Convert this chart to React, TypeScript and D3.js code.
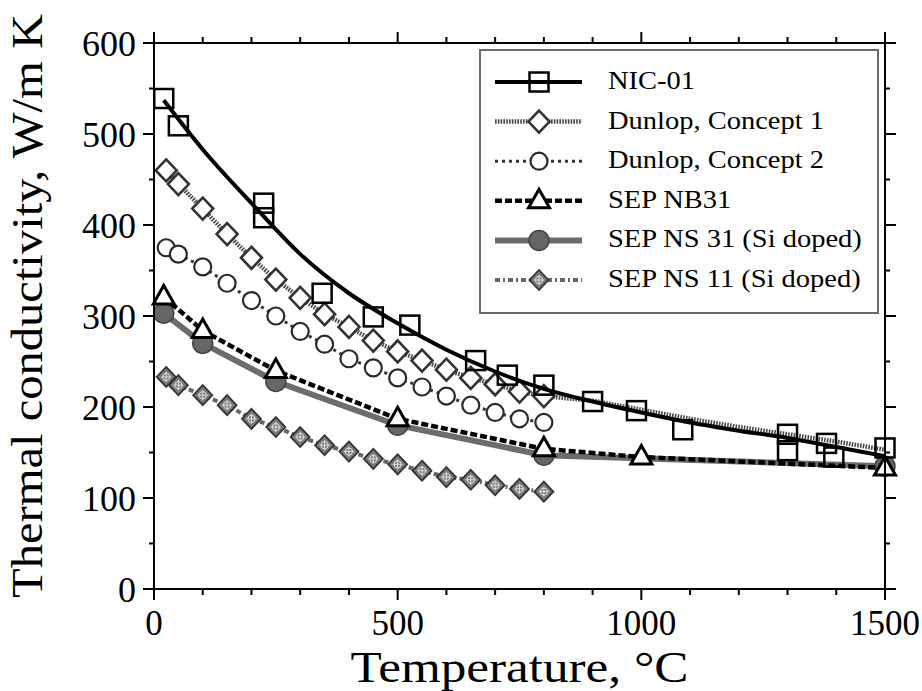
import React from 'react';
import * as d3 from 'd3';

// NIC-01 measured points (open squares)
const nicTemp = [20, 50, 225, 225, 345, 450, 525, 660, 725, 800, 900, 990, 1085, 1300, 1300, 1380, 1395, 1500];
const nicK = [539, 509, 424, 408, 325, 299, 290, 251, 235, 224, 206, 196, 175, 170, 152, 160, 145, 155];
// NIC-01 fitted curve
const nicFitTemp = [20, 100, 200, 300, 400, 500, 600, 700, 800, 900, 1000, 1100, 1200, 1300, 1400, 1500];
const nicFitK = [537, 483, 424, 368, 325, 292, 263, 239, 220, 206, 194, 183, 174, 166, 156, 146];

// Dunlop concepts share the same temperatures
const dunlopTemp = [25, 50, 100, 150, 200, 250, 300, 350, 400, 450, 500, 550, 600, 650, 700, 750, 800];
const dunlop1K = [460, 445, 418, 390, 364, 340, 320, 302, 288, 273, 261, 251, 241, 232, 225, 217, 212];
const dunlop1ExtTemp = [900, 1000, 1100, 1200, 1300, 1400, 1500];
const dunlop1ExtK = [207, 197, 187, 178, 170, 162, 153];
const dunlop2K = [375, 368, 354, 336, 317, 300, 283, 269, 253, 243, 232, 222, 212, 202, 194, 187, 183];

const nb31Temp = [20, 100, 250, 500, 800, 1000, 1500];
const nb31K = [321, 284, 240, 187, 154, 145, 133];

const ns31Temp = [20, 100, 250, 500, 800, 1500];
const ns31K = [303, 270, 228, 180, 147, 135];

const ns11Temp = [25, 50, 100, 150, 200, 250, 300, 350, 400, 450, 500, 550, 600, 650, 700, 750, 800];
const ns11K = [233, 224, 213, 202, 187, 178, 167, 158, 151, 143, 137, 130, 123, 120, 114, 110, 107];

const xTicks = [0, 500, 1000, 1500];
const yTicks = [0, 100, 200, 300, 400, 500, 600];

const legendLabels = ['NIC-01', 'Dunlop, Concept 1', 'Dunlop, Concept 2', 'SEP NB31', 'SEP NS 31 (Si doped)', 'SEP NS 11 (Si doped)'];

const W = 922;
const H = 691;
const font = '"Liberation Serif", "Times New Roman", serif';

const x = d3.scaleLinear().domain([0, 1500]).range([154, 885]);
const y = d3.scaleLinear().domain([0, 600]).range([589, 43]);

const zip = (t: number[], k: number[]) => t.map((d, i) => [d, k[i]] as [number, number]);

const line = d3.line<[number, number]>().x(d => x(d[0])).y(d => y(d[1]));
const smooth = d3.line<[number, number]>().x(d => x(d[0])).y(d => y(d[1])).curve(d3.curveMonotoneX);

// line styles for each series
const styles = {
  nic: { stroke: '#000', strokeWidth: 4, dash: undefined },
  d1: { stroke: '#474747', strokeWidth: 4.5, dash: '1.6,1.2' },
  d2: { stroke: '#333', strokeWidth: 3, dash: '3,4' },
  nb31: { stroke: '#000', strokeWidth: 4.5, dash: '7,3' },
  ns31: { stroke: '#6c6c6c', strokeWidth: 6, dash: undefined },
  ns11: { stroke: '#666', strokeWidth: 4, dash: '5,3,2,3' },
};

const Marker = ({ type, cx, cy }: { type: string; cx: number; cy: number }) => {
  const t = `translate(${cx},${cy})`;
  if (type === 'square')
    return <rect x={cx - 9.5} y={cy - 9.5} width={19} height={19} fill="none" stroke="#000" strokeWidth={2.5} />;
  if (type === 'diamond')
    return <polygon transform={t} points="0,-11 10.5,0 0,11 -10.5,0" fill="#fff" stroke="#333" strokeWidth={2.6} />;
  if (type === 'circle')
    return <circle cx={cx} cy={cy} r={8.5} fill="#fff" stroke="#2a2a2a" strokeWidth={2.2} />;
  if (type === 'triangle')
    return <polygon transform={t} points="0,-11.5 10.5,7 -10.5,7" fill="#fff" stroke="#000" strokeWidth={3} />;
  if (type === 'dot')
    return <circle cx={cx} cy={cy} r={10} fill="#666" stroke="#444" strokeWidth={1.5} />;
  // hatched diamond with a light cross inside
  return (
    <g transform={t}>
      <polygon points="0,-10 9.5,0 0,10 -9.5,0" fill="#7a7a7a" stroke="#333" strokeWidth={1.8} />
      <circle r={3.6} fill="none" stroke="#e0e0e0" strokeWidth={1} />
      <path d="M-5,0H5M0,-5V5" stroke="#e0e0e0" strokeWidth={1} />
    </g>
  );
};

const Path = ({ d, s }: { d: string | null; s: any }) => (
  <path d={d || ''} fill="none" stroke={s.stroke} strokeWidth={s.strokeWidth} strokeDasharray={s.dash} />
);

const legendItems = [
  { s: styles.nic, m: 'square' },
  { s: styles.d1, m: 'diamond' },
  { s: styles.d2, m: 'circle' },
  { s: styles.nb31, m: 'triangle' },
  { s: styles.ns31, m: 'dot' },
  { s: styles.ns11, m: 'xdiamond' },
];

export default function App() {
  const xMinor = d3.range(0, 1501, 100).filter(v => v % 500 !== 0);
  const yMinor = d3.range(50, 600, 100);

  return (
    <svg width={W} height={H} style={{ position: 'absolute', left: 0, top: 0, background: '#fff' }} fontFamily={font}>
      {/* series, back to front */}
      <Path d={line(zip(ns11Temp, ns11K))} s={styles.ns11} />
      {ns11Temp.map((t, i) => <Marker key={'a' + i} type="xdiamond" cx={x(t)} cy={y(ns11K[i])} />)}

      <Path d={line(zip(ns31Temp, ns31K))} s={styles.ns31} />
      {ns31Temp.map((t, i) => <Marker key={'b' + i} type="dot" cx={x(t)} cy={y(ns31K[i])} />)}

      <Path d={line(zip(nb31Temp, nb31K))} s={styles.nb31} />
      {nb31Temp.map((t, i) => <Marker key={'c' + i} type="triangle" cx={x(t)} cy={y(nb31K[i])} />)}

      <Path d={line(zip(dunlopTemp, dunlop2K))} s={styles.d2} />
      {dunlopTemp.map((t, i) => <Marker key={'d' + i} type="circle" cx={x(t)} cy={y(dunlop2K[i])} />)}

      <Path d={line(zip(dunlopTemp, dunlop1K).concat(zip(dunlop1ExtTemp, dunlop1ExtK)))} s={styles.d1} />
      {dunlopTemp.map((t, i) => <Marker key={'e' + i} type="diamond" cx={x(t)} cy={y(dunlop1K[i])} />)}

      <Path d={smooth(zip(nicFitTemp, nicFitK))} s={styles.nic} />
      {nicTemp.map((t, i) => <Marker key={'f' + i} type="square" cx={x(t)} cy={y(nicK[i])} />)}

      {/* frame */}
      <rect x={x(0)} y={y(600)} width={x(1500) - x(0)} height={y(0) - y(600)} fill="none" stroke="#000" strokeWidth={2} />

      {/* bottom / top ticks, pointing outward */}
      {xTicks.map(v => (
        <g key={'xt' + v}>
          <line x1={x(v)} x2={x(v)} y1={y(0)} y2={y(0) + 11} stroke="#000" strokeWidth={2} />
          <line x1={x(v)} x2={x(v)} y1={y(600)} y2={y(600) - 11} stroke="#000" strokeWidth={2} />
          <text x={x(v)} y={635} fontSize={35} textAnchor="middle">{v}</text>
        </g>
      ))}
      {xMinor.map(v => (
        <g key={'xm' + v}>
          <line x1={x(v)} x2={x(v)} y1={y(0)} y2={y(0) + 6} stroke="#000" strokeWidth={2} />
          <line x1={x(v)} x2={x(v)} y1={y(600)} y2={y(600) - 6} stroke="#000" strokeWidth={2} />
        </g>
      ))}

      {/* left / right ticks */}
      {yTicks.map(v => (
        <g key={'yt' + v}>
          <line x1={x(0)} x2={x(0) - 11} y1={y(v)} y2={y(v)} stroke="#000" strokeWidth={2} />
          <line x1={x(1500)} x2={x(1500) + 11} y1={y(v)} y2={y(v)} stroke="#000" strokeWidth={2} />
          <text x={136} y={y(v)} dy="0.35em" fontSize={36} textAnchor="end">{v}</text>
        </g>
      ))}
      {yMinor.map(v => (
        <g key={'ym' + v}>
          <line x1={x(0)} x2={x(0) - 5} y1={y(v)} y2={y(v)} stroke="#000" strokeWidth={2} />
          <line x1={x(1500)} x2={x(1500) + 5} y1={y(v)} y2={y(v)} stroke="#000" strokeWidth={2} />
        </g>
      ))}

      {/* axis titles */}
      <text x={(x(0) + x(1500)) / 2} y={682} fontSize={45} textAnchor="middle" textLength={338} lengthAdjust="spacingAndGlyphs">
        Temperature, °C
      </text>
      <text transform="translate(42,306) rotate(-90)" fontSize={44} textAnchor="middle" textLength={584} lengthAdjust="spacingAndGlyphs">
        Thermal conductivity, W/m K
      </text>

      {/* legend */}
      <rect x={480} y={50} width={398} height={263} fill="#fff" stroke="#6a6a6a" strokeWidth={2} />
      {legendItems.map((it, i) => {
        const cy = 82 + i * 39.6;
        return (
          <g key={'lg' + i}>
            <line x1={495} x2={582} y1={cy} y2={cy} stroke={it.s.stroke} strokeWidth={it.s.strokeWidth} strokeDasharray={it.s.dash} />
            <Marker type={it.m} cx={539} cy={cy} />
            <text transform={`translate(608,${cy + 7}) scale(1.14,1)`} fontSize={25}>{legendLabels[i]}</text>
          </g>
        );
      })}
    </svg>
  );
}
